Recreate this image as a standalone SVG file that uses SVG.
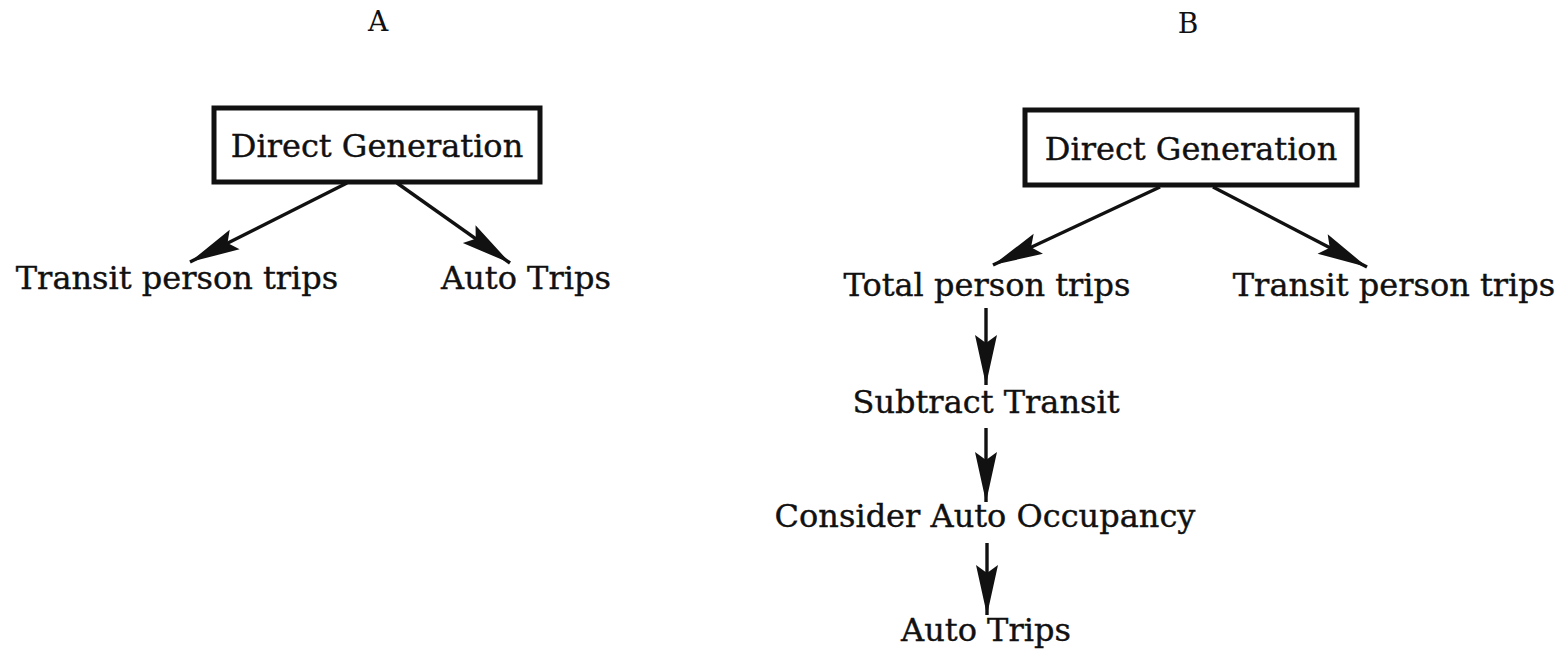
<svg xmlns="http://www.w3.org/2000/svg" width="1567" height="649" viewBox="0 0 1567 649">
  <style>
    .lbl { font-family: "DejaVu Serif", "Liberation Serif", serif; font-size: 32px; fill: #111; stroke: #111; stroke-width: 0.4; text-anchor: middle; }
    .hdr { font-family: "DejaVu Serif", "Liberation Serif", serif; font-size: 28px; fill: #111; text-anchor: middle; }
    .box { fill: #fff; stroke: #111; stroke-width: 5; }
    .edge { stroke: #111; stroke-width: 3.4; fill: none; marker-end: url(#head); }
  </style>
  <defs>
    <!-- long, narrow barbed arrowhead -->
    <marker id="head" markerUnits="userSpaceOnUse" viewBox="-52 -13 54 26" refX="0" refY="0" markerWidth="54" markerHeight="26" orient="auto">
      <path d="M0,0 L-50,-11 L-42,0 L-50,11 Z" fill="#111"/>
    </marker>
  </defs>

  <rect width="1567" height="649" fill="#fff"/>

  <!-- panel headings -->
  <text id="title-a" class="hdr" x="378" y="31">A</text>
  <text id="title-b" class="hdr" x="1188" y="33">B</text>

  <!-- panel A -->
  <g id="a-generation">
    <rect class="box" x="214" y="108" width="326" height="74"/>
    <text class="lbl" x="377" y="157">Direct Generation</text>
  </g>
  <g id="a-transit">
    <text class="lbl" x="177" y="289">Transit person trips</text>
  </g>
  <g id="a-auto">
    <text class="lbl" x="526" y="289">Auto Trips</text>
  </g>

  <!-- panel B -->
  <g id="b-generation">
    <rect class="box" x="1025" y="110" width="332" height="75"/>
    <text class="lbl" x="1191" y="160">Direct Generation</text>
  </g>
  <g id="b-total">
    <text class="lbl" x="987" y="296">Total person trips</text>
  </g>
  <g id="b-transit">
    <text class="lbl" x="1394" y="296">Transit person trips</text>
  </g>
  <g id="b-subtract">
    <text class="lbl" x="986" y="413">Subtract Transit</text>
  </g>
  <g id="b-occupancy">
    <text class="lbl" x="985" y="527">Consider Auto Occupancy</text>
  </g>
  <g id="b-auto">
    <text class="lbl" x="986" y="641">Auto Trips</text>
  </g>

  <!-- connectors -->
  <g id="connectors">
    <line class="edge" x1="347" y1="183" x2="190" y2="262"/>
    <line class="edge" x1="397" y1="183" x2="510" y2="263"/>
    <line class="edge" x1="1160" y1="187" x2="993" y2="265"/>
    <line class="edge" x1="1213" y1="187" x2="1367" y2="267"/>
    <line class="edge" x1="986" y1="308" x2="986" y2="385"/>
    <line class="edge" x1="986" y1="428" x2="986" y2="502"/>
    <line class="edge" x1="987" y1="543" x2="987" y2="615"/>
  </g>
</svg>
